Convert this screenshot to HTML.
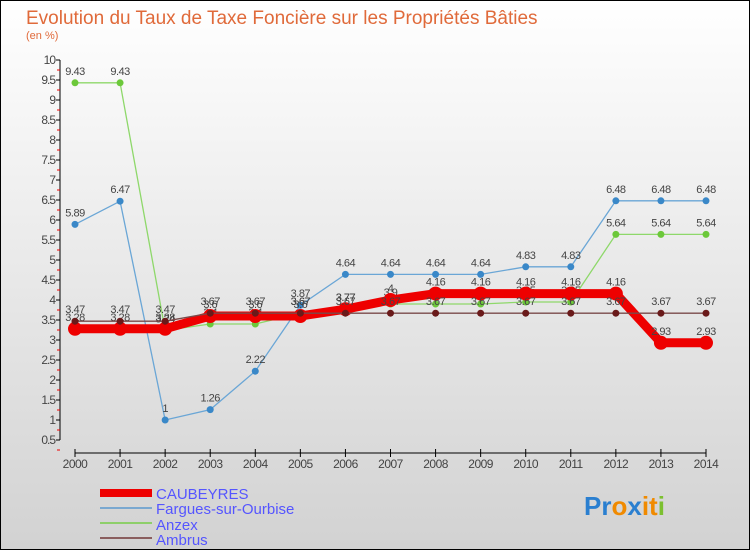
<!DOCTYPE html>
<html><head><meta charset="utf-8"><style>
body{margin:0}
#c{width:750px;height:550px;position:relative;overflow:hidden;background:linear-gradient(#fff,#d2d2d2);font-family:"Liberation Sans",sans-serif}
svg text{font-family:"Liberation Sans",sans-serif}
</style></head><body>
<div id="c">
<svg id="s" width="750" height="550" xmlns="http://www.w3.org/2000/svg">
<rect x="0.5" y="0.5" width="749" height="549" fill="none" stroke="#000"/>
<text x="26" y="24" font-size="19" fill="#e06a3a">Evolution du Taux de Taxe Foncière sur les Propriétés Bâties</text>
<text x="26" y="39" font-size="11" fill="#e06a3a">(en %)</text>
<g id="axes"></g><g id="series"></g>
<g>
<rect x="100" y="489" width="52" height="8" fill="#e00"/><text x="156" y="499" font-size="15" fill="#55f">CAUBEYRES</text>
<line x1="100" y1="508" x2="152" y2="508" stroke="#7aa8d0" stroke-width="2"/><text x="156" y="514" font-size="15" fill="#55f">Fargues-sur-Ourbise</text>
<line x1="100" y1="523" x2="152" y2="523" stroke="#8ecf6a" stroke-width="2"/><text x="156" y="530" font-size="15" fill="#55f">Anzex</text>
<line x1="100" y1="538" x2="152" y2="538" stroke="#8a5e5e" stroke-width="2"/><text x="156" y="545" font-size="15" fill="#55f">Ambrus</text>
</g>
<g font-size="26" font-weight="bold">
<text x="584" y="515"><tspan fill="#2a7fd0">Pr</tspan><tspan fill="#f08a00">o</tspan><tspan fill="#2a7fd0">x</tspan><tspan fill="#f08a00">it</tspan><tspan fill="#7cc030">i</tspan></text>
</g>
</svg>
</div>
<script>
const years=[2000,2001,2002,2003,2004,2005,2006,2007,2008,2009,2010,2011,2012,2013,2014];
const yTicks=[0.5,1,1.5,2,2.5,3,3.5,4,4.5,5,5.5,6,6.5,7,7.5,8,8.5,9,9.5,10];
const caubeyres=[3.28,3.28,3.28,3.6,3.6,3.6,3.77,4,4.16,4.16,4.16,4.16,4.16,2.93,2.93];
const fargues=[5.89,6.47,1,1.26,2.22,3.87,4.64,4.64,4.64,4.64,4.83,4.83,6.48,6.48,6.48];
const anzex=[9.43,9.43,3.24,3.4,3.4,3.67,3.77,3.9,3.9,3.9,3.95,3.95,5.64,5.64,5.64];
const ambrus=[3.47,3.47,3.47,3.67,3.67,3.67,3.67,3.67,3.67,3.67,3.67,3.67,3.67,3.67,3.67];
const NS="http://www.w3.org/2000/svg";
function X(i){return 75+i*(706-75)/(years.length-1);}
function Y(v){return 440-(v-0.5)*40;}
function mk(t,a,p){const e=document.createElementNS(NS,t);for(const k in a)e.setAttribute(k,a[k]);p.appendChild(e);return e;}
const ax=document.getElementById('axes');
let yl=mk('line',{x1:60,y1:Y(10),x2:60,y2:Y(0.5),stroke:'#000'},ax);


yTicks.forEach(v=>{
 mk('line',{x1:56,y1:Y(v),x2:60,y2:Y(v),stroke:'#000'},ax);
 mk('line',{x1:57,y1:Y(v)+10,x2:60,y2:Y(v)+10,stroke:'#e00'},ax);
 const t=mk('text',{x:55,y:Y(v)+4,'font-size':12,'text-anchor':'end',fill:'#444','letter-spacing':'-1'},ax);
 t.textContent=String(v);
 
 
});
let xl=mk('line',{x1:X(0),y1:453,x2:X(years.length-1),y2:453,stroke:'#000'},ax);


years.forEach((y,i)=>{
 mk('line',{x1:X(i),y1:449,x2:X(i),y2:457,stroke:'#000'},ax);
 const t=mk('text',{x:X(i),y:468,'font-size':12,'text-anchor':'middle',fill:'#444','letter-spacing':'-0.5'},ax);
 t.textContent=y;
 
 
});
const sg=document.getElementById('series');
function draw(name,vals,color,w,r,dot){
 const g=mk('g',{},sg);
 
 
 mk('polyline',{points:vals.map((v,i)=>X(i)+','+Y(v)).join(' '),fill:'none',stroke:color,'stroke-width':w},g);
 vals.forEach((v,i)=>{
  const c=mk('circle',{cx:X(i),cy:Y(v),r:r,fill:dot},g);
  
  
  const t=mk('text',{x:X(i),y:Y(v)-8,'font-size':11,'text-anchor':'middle',fill:'#444','letter-spacing':'-0.5'},g);
  t.textContent=String(v);
  
  
 });
}
draw('fargues',fargues,'#6aa6d6',1.3,3.5,'#3a88c8');
draw('anzex',anzex,'#8ed86a',1.3,3.5,'#6cc83a');
draw('caubeyres',caubeyres,'#ee0000',9,7,'#ee0000');
draw('ambrus',ambrus,'#7a4a4a',1.3,3.5,'#6a1a1a');
</script>
</body></html>
